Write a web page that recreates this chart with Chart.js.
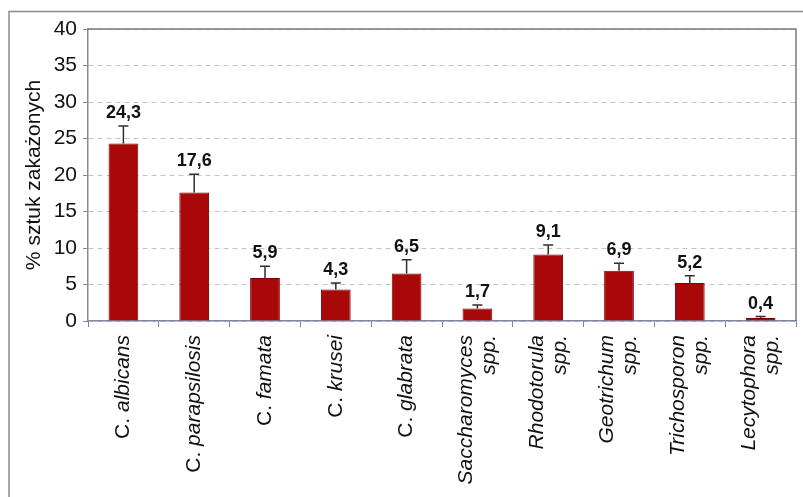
<!DOCTYPE html>
<html>
<head>
<meta charset="utf-8">
<script src="https://cdn.jsdelivr.net/npm/chart.js@4/dist/chart.umd.min.js"></script>
<style>
  html, body { margin: 0; padding: 0; background: #ffffff; }
  #wrap { width: 803px; height: 497px; position: relative; }
</style>
</head>
<body>
<div id="wrap"><canvas id="c" width="803" height="497"></canvas></div>
<script>
// ---- data ----
const categories = [
  ["C. albicans"],
  ["C. parapsilosis"],
  ["C. famata"],
  ["C. krusei"],
  ["C. glabrata"],
  ["Saccharomyces", "spp."],
  ["Rhodotorula", "spp."],
  ["Geotrichum", "spp."],
  ["Trichosporon", "spp."],
  ["Lecytophora", "spp."]
];
const values = [24.3, 17.6, 5.9, 4.3, 6.5, 1.7, 9.1, 6.9, 5.2, 0.4];
const errors = [2.4, 2.5, 1.6, 0.9, 1.9, 0.5, 1.3, 1.0, 1.0, 0.2];
const valueLabels = ["24,3", "17,6", "5,9", "4,3", "6,5", "1,7", "9,1", "6,9", "5,2", "0,4"];
const yTicks = [0, 5, 10, 15, 20, 25, 30, 35, 40];
const yTitle = "% sztuk zakażonych";

const FONT = "'Liberation Sans', Arial, sans-serif";

const framePlugin = {
  id: 'frame',
  beforeDraw(chart) {
    const ctx = chart.ctx;
    ctx.save();
    ctx.fillStyle = '#ffffff';
    ctx.fillRect(0, 0, chart.width, chart.height);
    ctx.strokeStyle = '#8a8a8a';
    ctx.lineWidth = 1.5;
    ctx.beginPath();
    ctx.moveTo(9, chart.height);
    ctx.lineTo(9, 11.5);
    ctx.lineTo(chart.width, 11.5);
    ctx.stroke();
    ctx.restore();
  },
  afterDraw(chart) {
    const ctx = chart.ctx;
    const a = chart.chartArea;
    const xs = chart.scales.x, ys = chart.scales.y;
    ctx.save();
    // plot frame top/right
    ctx.strokeStyle = '#7a7a7a';
    ctx.lineWidth = 1.5;
    ctx.beginPath();
    ctx.moveTo(a.left, a.top);
    ctx.lineTo(a.right, a.top);
    ctx.lineTo(a.right, a.bottom);
    ctx.stroke();

    // error bars
    ctx.strokeStyle = '#3a2a2a';
    ctx.lineWidth = 1.5;
    values.forEach((v, i) => {
      const x = xs.getPixelForValue(i);
      const y0 = ys.getPixelForValue(v);
      const y1 = ys.getPixelForValue(v + errors[i]);
      ctx.beginPath();
      ctx.moveTo(x, y0);
      ctx.lineTo(x, y1);
      ctx.moveTo(x - 5, y1);
      ctx.lineTo(x + 5, y1);
      ctx.stroke();
    });

    // value labels
    ctx.fillStyle = '#111111';
    ctx.font = 'bold 18px ' + FONT;
    ctx.textAlign = 'center';
    ctx.textBaseline = 'alphabetic';
    values.forEach((v, i) => {
      const x = xs.getPixelForValue(i);
      const y1 = ys.getPixelForValue(v + errors[i]);
      ctx.fillText(valueLabels[i], x, y1 - 8);
    });

    // x category labels (rotated, "C." upright, names italic)
    const lh = 23;
    const topY = a.bottom + 14;
    categories.forEach((lines, i) => {
      const cx = xs.getPixelForValue(i);
      const n = lines.length;
      lines.forEach((txt, j) => {
        const off = (j - (n - 1) / 2) * lh;
        ctx.save();
        ctx.translate(cx + off, topY);
        ctx.rotate(-Math.PI / 2);
        ctx.textAlign = 'right';
        ctx.textBaseline = 'middle';
        ctx.fillStyle = '#111111';
        let upright = '', ital = txt;
        if (txt.startsWith('C. ')) { upright = 'C. '; ital = txt.slice(3); }
        ctx.font = 'italic 21px ' + FONT;
        const w = ctx.measureText(ital).width;
        ctx.fillText(ital, 0, 0);
        if (upright) {
          ctx.font = '21px ' + FONT;
          ctx.fillText(upright, -w, 0);
        }
        ctx.restore();
      });
    });
    ctx.restore();
  }
};

new Chart(document.getElementById('c'), {
  type: 'bar',
  data: {
    labels: categories.map(l => l.join(' ')),
    datasets: [{
      data: values,
      backgroundColor: '#a80808',
      borderColor: '#7c0000',
      borderWidth: 1,
      barPercentage: 0.42,
      categoryPercentage: 1.0
    }]
  },
  options: {
    responsive: false,
    animation: false,
    events: [],
    layout: { padding: { left: 18, top: 29, right: 7, bottom: 0 } },
    plugins: { legend: { display: false }, tooltip: { enabled: false } },
    scales: {
      x: {
        offset: true,
        grid: { display: true, drawOnChartArea: false, drawTicks: true, tickLength: 6, tickColor: '#7f7f9a', offset: true, lineWidth: 1 },
        border: { display: true, color: '#7f86a8', width: 1.5 },
        ticks: { display: true, color: 'rgba(0,0,0,0)', minRotation: 90, maxRotation: 90, font: { size: 21, family: FONT } },
        afterFit(s) { s.height = 176; }
      },
      y: {
        min: 0,
        max: 40,
        afterBuildTicks(s) { s.ticks = yTicks.map(v => ({ value: v })); },
        grid: { color: '#c4c4c4', lineWidth: 1, drawTicks: true, tickLength: 5, tickColor: '#8a8a8a', tickBorderDash: [] },
        border: { display: true, color: '#8a8a8a', width: 1.5, dash: [5, 4] },
        ticks: { color: '#111111', padding: 6, font: { size: 21, family: FONT }, callback: v => String(v) },
        title: { display: true, text: yTitle, color: '#111111', font: { size: 21, family: FONT }, padding: { top: 4, bottom: 4 } },
        afterFit(s) { s.width = 70; }
      }
    }
  },
  plugins: [framePlugin]
});
</script>
</body>
</html>
